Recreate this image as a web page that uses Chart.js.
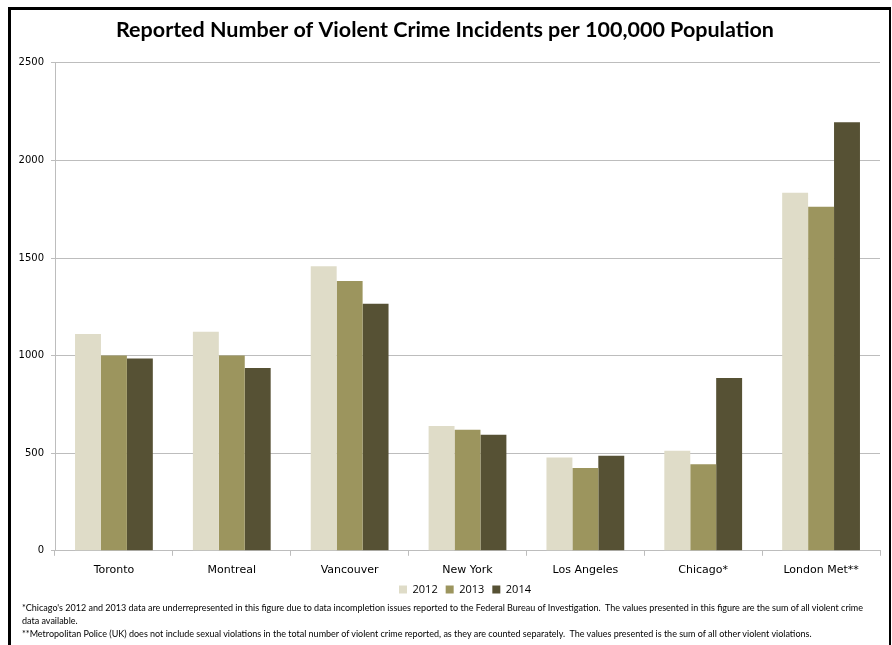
<!DOCTYPE html>
<html>
<head>
<meta charset="utf-8">
<script src="https://cdn.jsdelivr.net/npm/chart.js@4.4.1/dist/chart.umd.min.js"></script>
<style>
  html, body { margin: 0; padding: 0; background: #fff; }
  #wrap { position: relative; width: 892px; height: 645px; overflow: hidden; }
  #frame { position: absolute; left: 8px; top: 7px; width: 878px; height: 660px;
           border-left: 3px solid #000; border-top: 3px solid #000; border-right: 2px solid #000; }
  #chart { position: absolute; left: 0; top: 0; }
  #notes { position: absolute; left: 22px; top: 601px; font-family: 'Liberation Sans Narrow', 'Lato', sans-serif;
           font-size: 9px; line-height: 13px; color: #000; white-space: nowrap; }
</style>
</head>
<body>
<div id="wrap">
  <div id="frame"></div>
  <canvas id="chart" width="892" height="645"></canvas>
  <div id="notes">
    *Chicago's 2012 and 2013 data are underrepresented in this figure due to data incompletion issues reported to the Federal Bureau of Investigation.&nbsp; The values presented in this figure are the sum of all violent crime<br>
    data available.<br>
    **Metropolitan Police (UK) does not include sexual violations in the total number of violent crime reported, as they are counted separately.&nbsp; The values presented is the sum of all other violent violations.
  </div>
</div>
<script>
// cities and yearly rates per 100,000
const cities = ['Toronto', 'Montreal', 'Vancouver', 'New York', 'Los Angeles', 'Chicago*', 'London Met**'];
const rates2012 = [1111, 1122, 1458, 639, 478, 512, 1834];
const rates2013 = [1000, 1000, 1382, 620, 424, 444, 1762];
const rates2014 = [985, 937, 1265, 594, 487, 885, 2195];
const yTicks = [0, 500, 1000, 1500, 2000, 2500];

// legend sits centred under the plot area and a bit tighter to the axis labels
const legendShift = {
  id: 'legendShift',
  afterLayout(chart) {
    chart.legend.left += 20;
    chart.legend.right += 20;
    chart.legend.top -= 9;
    chart.legend.bottom -= 9;
  }
};

const ctx = document.getElementById('chart').getContext('2d');
const crimeChart = new Chart(ctx, {
  type: 'bar',
  data: {
    labels: cities,
    datasets: [
      { label: '2012', data: rates2012, backgroundColor: '#dfdcc8' },
      { label: '2013', data: rates2013, backgroundColor: '#9c955e' },
      { label: '2014', data: rates2014, backgroundColor: '#565134' }
    ]
  },
  options: {
    responsive: false,
    animation: false,
    layout: { padding: { left: 10, right: 12, top: 12, bottom: 31 } },
    datasets: { bar: { categoryPercentage: 0.66, barPercentage: 1.0 } },
    plugins: {
      title: {
        display: true,
        text: 'Reported Number of Violent Crime Incidents per 100,000 Population',
        color: '#000',
        font: { family: 'Lato', size: 21.5, weight: 'bold' },
        padding: { top: 5, bottom: 20 }
      },
      legend: {
        position: 'bottom',
        labels: {
          boxWidth: 8, boxHeight: 8, padding: 8,
          color: '#000',
          font: { family: 'Open Sans', size: 11, lineHeight: 1 }
        }
      },
      tooltip: { enabled: false }
    },
    scales: {
      x: {
        grid: { display: true, drawOnChartArea: false, drawTicks: true, tickLength: 5, color: '#bdbdbd', offset: true },
        border: { color: '#bdbdbd' },
        ticks: { color: '#000', padding: 8, font: { family: 'DejaVu Sans', size: 11 } }
      },
      y: {
        min: 0, max: 2500,
        afterBuildTicks: function (scale) { scale.ticks = yTicks.map(v => ({ value: v })); },
        afterFit: function (scale) { scale.width = 45; },
        grid: { color: '#bdbdbd', tickLength: 4 },
        border: { color: '#bdbdbd' },
        ticks: {
          color: '#000', padding: 7, font: { family: 'DejaVu Sans', size: 10 },
          callback: function (value) { return String(value); }
        }
      }
    }
  },
  plugins: [legendShift]
});
</script>
</body>
</html>
